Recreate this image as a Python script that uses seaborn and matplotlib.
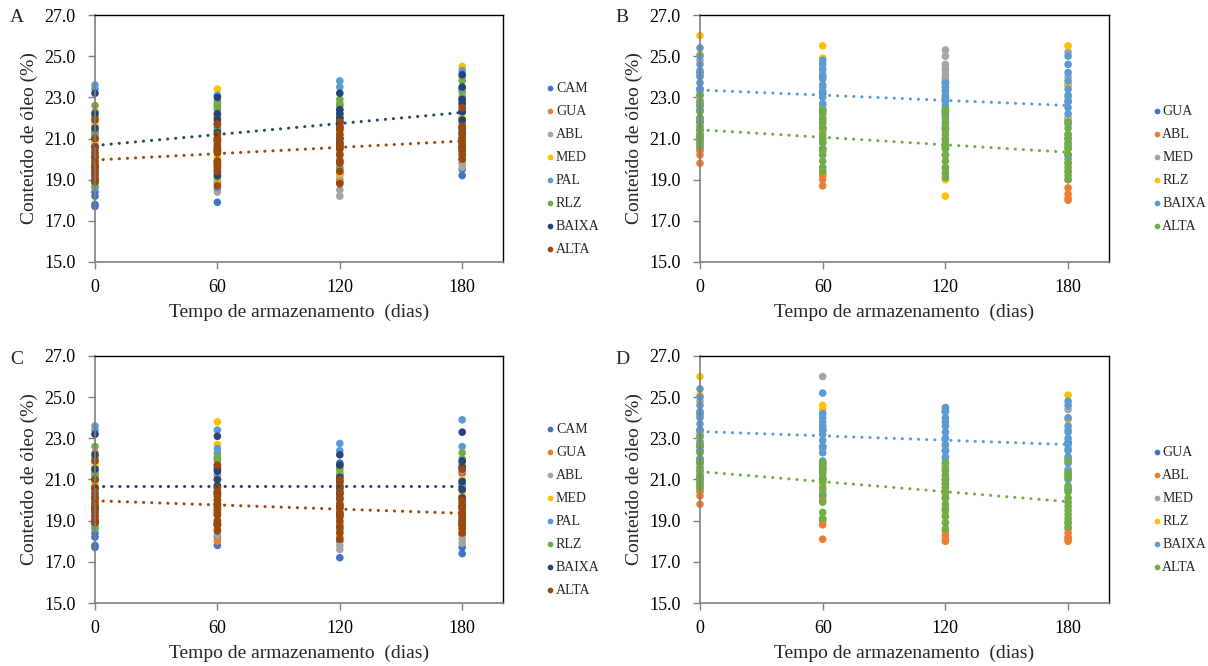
import matplotlib
matplotlib.use("Agg")
import matplotlib.pyplot as plt
import pandas as pd
import seaborn as sns

# ---------------------------------------------------------------- data
DIAS = [0, 60, 120, 180]
Y_TICKS = [15.0, 17.0, 19.0, 21.0, 23.0, 25.0, 27.0]

# Panels A and C: eight series
NOMES_AC = ["CAM", "GUA", "ABL", "MED", "PAL", "RLZ", "BAIXA", "ALTA"]
# Panels B and D: six series
NOMES_BD = ["GUA", "ABL", "MED", "RLZ", "BAIXA", "ALTA"]

# Oil content (%) per series, one list per storage day (0, 60, 120, 180)
a_cam = [[17.7, 17.8, 18.2, 18.4, 19.2, 19.6, 20.1, 20.5, 21.0],
         [17.9, 18.9, 19.3, 19.8, 20.4, 20.9, 21.5, 22.0, 22.6],
         [18.9, 19.3, 19.9, 20.5, 21.0, 21.6, 22.0, 21.8, 20.7],
         [19.2, 19.5, 20.0, 20.6, 21.2, 21.8, 22.3, 22.9, 23.4]]
a_gua = [[19.0, 19.8, 20.6, 21.3, 22.3],
         [18.8, 19.6, 20.5, 21.2, 22.0],
         [19.0, 19.8, 20.7, 21.5, 22.2],
         [19.8, 20.5, 21.3, 22.0, 22.8]]
a_abl = [[18.9, 19.5, 20.2, 21.0, 21.6],
         [18.4, 18.5, 19.4, 20.3, 21.0],
         [18.2, 18.5, 19.2, 20.0, 21.0],
         [19.6, 19.8, 20.4, 21.1, 21.9]]
a_med = [[19.4, 20.0, 20.8, 21.8, 22.1],
         [19.0, 20.1, 21.0, 22.2, 23.4],
         [19.3, 20.2, 21.1, 22.0, 22.6],
         [20.2, 21.0, 22.0, 23.2, 24.5]]
a_pal = [[18.6, 19.3, 20.4, 21.4, 23.4, 23.6],
         [18.6, 19.5, 20.7, 22.4, 22.8, 23.1],
         [19.6, 20.8, 21.9, 22.6, 23.5, 23.8],
         [20.3, 21.4, 22.6, 23.3, 24.0, 24.3]]
a_rlz = [[18.7, 18.9, 19.7, 20.5, 21.2, 22.0, 22.6],
         [19.1, 19.8, 20.6, 21.4, 22.1, 22.5, 22.7],
         [19.5, 20.3, 21.2, 22.0, 22.4, 22.7, 22.9],
         [20.0, 20.8, 21.6, 22.4, 23.0, 23.4, 23.8]]
a_baixa = [[18.9, 19.0, 19.6, 20.1, 20.6, 21.0, 21.5, 22.2, 23.2],
           [19.2, 19.9, 20.4, 20.9, 21.3, 21.7, 21.9, 22.2, 23.0],
           [20.6, 20.8, 21.0, 21.5, 21.8, 22.0, 22.2, 22.4, 23.2],
           [20.6, 21.0, 21.5, 21.9, 22.3, 22.7, 22.9, 23.5, 24.1]]
a_alta = [[18.9, 19.0, 19.2, 19.4, 19.5, 19.7, 19.9, 20.1, 20.3, 20.6, 21.0, 21.9],
          [18.7, 19.4, 19.6, 19.7, 19.9, 20.3, 20.5, 20.6, 20.8, 21.0, 21.2, 21.7],
          [18.8, 19.4, 19.8, 19.9, 20.2, 20.5, 20.7, 21.0, 21.2, 21.4, 21.6, 21.8],
          [20.0, 20.2, 20.4, 20.5, 20.6, 20.7, 20.8, 21.0, 21.2, 21.3, 21.6, 22.5]]

c_cam = [[17.7, 17.8, 18.2, 18.4, 19.2, 19.6, 20.1, 20.5, 21.0],
         [17.8, 18.2, 18.8, 19.4, 20.0, 20.6, 21.2, 21.7, 22.0],
         [17.2, 18.0, 18.6, 19.2, 19.8, 20.4, 20.9, 21.3, 21.8],
         [17.4, 17.7, 18.4, 19.0, 19.6, 20.2, 20.8, 21.3, 21.8]]
c_gua = [[19.0, 19.8, 20.6, 21.3, 22.3],
         [18.0, 18.6, 19.5, 20.3, 21.0],
         [18.2, 18.9, 19.7, 20.5, 21.2],
         [18.3, 19.0, 19.8, 20.6, 21.4]]
c_abl = [[18.9, 19.5, 20.2, 21.0, 21.6],
         [18.3, 18.8, 19.6, 20.4, 21.2],
         [17.6, 17.8, 18.5, 19.4, 20.3],
         [17.9, 18.1, 18.8, 19.6, 20.5]]
c_med = [[19.4, 20.0, 20.8, 21.8, 22.1],
         [19.2, 20.0, 21.0, 22.7, 23.8],
         [18.4, 19.2, 20.0, 20.8, 21.4],
         [18.6, 19.4, 20.2, 21.0, 21.7]]
c_pal = [[18.6, 19.3, 20.4, 21.4, 23.4, 23.6],
         [18.9, 19.8, 20.7, 22.3, 22.5, 23.4],
         [18.8, 19.6, 20.6, 21.6, 22.4, 22.75],
         [18.9, 19.7, 20.6, 21.5, 22.6, 23.9]]
c_rlz = [[18.7, 18.9, 19.7, 20.5, 21.2, 22.0, 22.6],
         [18.9, 19.6, 20.4, 21.0, 21.6, 21.9, 22.1],
         [18.6, 19.3, 20.0, 20.7, 21.2, 21.5, 21.7],
         [18.7, 19.4, 20.1, 20.9, 21.6, 22.0, 22.3]]
c_baixa = [[18.9, 19.0, 19.6, 20.1, 20.6, 21.0, 21.5, 22.2, 23.2],
           [18.8, 19.3, 19.8, 20.3, 20.7, 21.0, 21.4, 21.5, 23.1],
           [19.3, 19.7, 20.1, 20.3, 20.6, 20.9, 21.1, 21.7, 22.2],
           [18.8, 19.3, 19.7, 20.1, 20.5, 20.9, 21.6, 21.9, 23.3]]
c_alta = [[18.9, 19.0, 19.2, 19.4, 19.5, 19.7, 19.9, 20.1, 20.3, 20.6, 21.0, 21.9],
          [18.5, 18.8, 19.0, 19.3, 19.5, 19.7, 19.8, 20.0, 20.2, 20.4, 20.6, 21.7],
          [18.1, 18.4, 18.7, 19.0, 19.2, 19.4, 19.6, 19.8, 20.1, 20.4, 20.7, 21.0],
          [18.4, 18.6, 18.8, 18.9, 19.0, 19.1, 19.2, 19.4, 19.6, 19.9, 20.0, 21.5]]

b_gua = [[21.0, 21.8, 22.6, 23.4, 24.2],
         [20.5, 21.4, 22.3, 23.2, 24.0],
         [20.6, 21.5, 22.3],
         [20.2, 21.0, 21.9, 22.8, 23.6]]
b_abl = [[19.8, 20.2, 20.4, 20.5, 21.2, 22.0],
         [18.7, 19.0, 19.2, 19.3, 20.4, 21.5],
         [19.5, 20.2, 21.0],
         [18.0, 18.1, 18.3, 18.6, 19.0, 19.4, 19.8]]
b_med = [[21.5, 22.4, 23.3, 24.1, 24.8],
         [20.8, 21.7, 22.6, 23.5, 24.3],
         [23.3, 23.5, 23.7, 23.8, 23.9, 24.0, 24.1, 24.3, 24.4, 24.6, 25.0, 25.3],
         [21.8, 22.0, 23.0, 24.0, 25.2]]
b_rlz = [[22.0, 22.9, 25.1, 26.0],
         [21.3, 22.2, 24.9, 25.5],
         [18.2, 19.0, 20.5, 21.6],
         [20.5, 21.9, 23.6, 25.5]]
b_baixa = [[21.4, 21.8, 22.0, 22.4, 22.8, 23.1, 23.4, 23.7, 24.0, 24.3, 24.6, 25.0, 25.4],
           [21.0, 21.5, 21.9, 22.4, 22.7, 23.0, 23.3, 23.6, 23.9, 24.1, 24.4, 24.6, 24.8],
           [21.4, 21.7, 22.0, 22.2, 22.4, 22.6, 22.8, 22.9, 23.0, 23.1, 23.3, 23.5, 23.7],
           [20.0, 20.6, 21.2, 21.8, 22.2, 22.5, 22.8, 23.1, 23.4, 23.8, 24.2, 24.6, 25.0]]
b_alta = [[20.6, 20.7, 20.8, 20.9, 21.0, 21.1, 21.2, 21.4, 21.6, 21.9, 22.3, 22.7, 23.1],
          [19.4, 19.6, 19.9, 20.2, 20.5, 20.8, 21.0, 21.2, 21.5, 21.8, 22.0, 22.2, 22.4],
          [19.1, 19.3, 19.6, 19.9, 20.2, 20.5, 20.7, 20.9, 21.2, 21.5, 21.8, 22.1, 22.4],
          [19.0, 19.2, 19.4, 19.6, 19.8, 20.2, 20.5, 20.7, 20.8, 21.0, 21.2, 21.5, 21.7]]

d_gua = [[21.0, 21.8, 22.6, 23.4, 24.2],
         [20.2, 21.0, 21.8, 22.6, 23.4],
         [20.1, 20.8, 21.6, 22.4],
         [20.5, 21.2, 22.0, 22.8]]
d_abl = [[19.8, 20.2, 20.4, 20.5, 21.2, 22.0],
         [18.1, 18.8, 19.0, 19.1, 20.0, 21.0],
         [18.0, 18.1, 18.3, 18.5, 19.6, 20.3],
         [18.0, 18.1, 18.2, 18.4, 18.6, 18.9]]
d_med = [[21.5, 22.4, 23.3, 24.1, 24.8],
         [20.5, 21.5, 22.5, 23.5, 26.0],
         [21.0, 22.0, 23.0, 24.3, 24.4],
         [21.5, 22.5, 23.4, 24.4]]
d_rlz = [[22.0, 22.9, 25.1, 26.0],
         [20.8, 21.6, 24.4, 24.6],
         [19.4, 20.6, 21.7, 22.6],
         [21.2, 22.0, 23.9, 25.1]]
d_baixa = [[21.4, 21.8, 22.0, 22.4, 22.8, 23.1, 23.4, 23.7, 24.0, 24.3, 24.6, 25.0, 25.4],
           [21.0, 21.5, 21.9, 22.3, 22.6, 22.9, 23.2, 23.4, 23.6, 23.8, 24.0, 24.2, 25.2],
           [21.0, 21.4, 21.8, 22.1, 22.4, 22.7, 23.0, 23.3, 23.6, 23.8, 24.0, 24.3, 24.5],
           [20.6, 21.0, 21.4, 21.8, 22.1, 22.4, 22.7, 23.0, 23.3, 23.6, 24.0, 24.6, 24.8]]
d_alta = [[20.6, 20.7, 20.8, 20.9, 21.0, 21.1, 21.2, 21.4, 21.6, 21.9, 22.3, 22.7, 23.1],
          [19.1, 19.4, 19.9, 20.3, 20.6, 20.9, 21.1, 21.3, 21.4, 21.5, 21.6, 21.7, 21.8],
          [18.6, 18.9, 19.2, 19.5, 19.8, 20.1, 20.4, 20.6, 20.8, 21.0, 21.2, 21.5, 21.8],
          [18.7, 18.9, 19.1, 19.3, 19.5, 19.7, 19.9, 20.1, 20.4, 20.7, 21.1, 21.3, 21.9]]

# ---------------------------------------------------------------- style
CORES_AC = ["#4472C4", "#ED7D31", "#A5A5A5", "#FFC000",
            "#5B9BD5", "#70AD47", "#264478", "#9E480E"]
CORES_BD = ["#4472C4", "#ED7D31", "#A5A5A5", "#FFC000", "#5B9BD5", "#70AD47"]

sns.set_style("ticks")
plt.rcParams["font.family"] = ["Liberation Serif", "DejaVu Serif"]

W, H = 1208, 666
fig = plt.figure(figsize=(W / 100, H / 100), dpi=100)


def frame(nomes, series):
    linhas = []
    for nome, valores in zip(nomes, series):
        for dia, grupo in zip(DIAS, valores):
            for v in grupo:
                linhas.append({"dias": dia, "oleo": v, "serie": nome})
    return pd.DataFrame(linhas)


def painel(rect_px, letra, nomes, cores, series):
    left, top, right, bottom = rect_px
    ax = fig.add_axes([left / W, 1 - bottom / H, (right - left) / W, (bottom - top) / H])
    df = frame(nomes, series)
    sns.scatterplot(data=df, x="dias", y="oleo", hue="serie", hue_order=nomes,
                    palette=cores, s=30, linewidth=0, clip_on=False, ax=ax)
    # linear trend lines of the BAIXA and ALTA groups
    for nome in ["BAIXA", "ALTA"]:
        cor = cores[nomes.index(nome)]
        sns.regplot(data=df[df["serie"] == nome], x="dias", y="oleo",
                    scatter=False, ci=None, truncate=True, ax=ax, color=cor,
                    line_kws=dict(linestyle=(0, (0.05, 2.6)), linewidth=2.2,
                                  dash_capstyle="round", zorder=4))
    ax.set_xlim(0, 200)
    ax.set_ylim(15, 27)
    ax.set_xticks(DIAS)
    ax.set_yticks(Y_TICKS)
    ax.set_yticklabels([f"{t:.1f}" for t in Y_TICKS])
    ax.tick_params(axis="both", direction="out", length=5, width=1,
                   color="#7f7f7f", labelsize=13, labelcolor="black")
    ax.tick_params(axis="y", pad=9)
    ax.tick_params(axis="x", pad=7)
    for s in ["top", "right"]:
        ax.spines[s].set_color("black")
        ax.spines[s].set_linewidth(1.0)
    for s in ["left", "bottom"]:
        ax.spines[s].set_color("#7f7f7f")
        ax.spines[s].set_linewidth(1.2)
    ax.set_xlabel("Tempo de armazenamento  (dias)", fontsize=14, labelpad=6)
    ax.set_ylabel("Conteúdo de óleo (%)", fontsize=14)
    ax.yaxis.set_label_coords(-57 / (right - left), 0.5)
    sns.move_legend(ax, "center left", bbox_to_anchor=((540 - 95) / 408, 0.375),
                    frameon=False, title=None, fontsize=10, handlelength=0.5,
                    handletextpad=0.15, borderpad=0, labelspacing=0.72,
                    markerscale=0.75)
    fig.text((left - 85) / W, 1 - (top + 3) / H, letra, fontsize=14,
             ha="left", va="center")
    return ax


painel((95, 15, 503, 262), "A", NOMES_AC, CORES_AC,
       [a_cam, a_gua, a_abl, a_med, a_pal, a_rlz, a_baixa, a_alta])
painel((700, 15, 1109, 262), "B", NOMES_BD, CORES_BD,
       [b_gua, b_abl, b_med, b_rlz, b_baixa, b_alta])
painel((95, 356, 503, 603), "C", NOMES_AC, CORES_AC,
       [c_cam, c_gua, c_abl, c_med, c_pal, c_rlz, c_baixa, c_alta])
painel((700, 356, 1109, 603), "D", NOMES_BD, CORES_BD,
       [d_gua, d_abl, d_med, d_rlz, d_baixa, d_alta])

fig.savefig("out.png", dpi=100, facecolor="white")
